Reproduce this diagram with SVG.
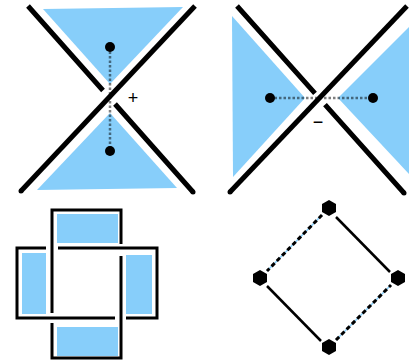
<svg xmlns="http://www.w3.org/2000/svg" width="410" height="362" viewBox="0 0 410 362">
<style>
.fill{fill:#87cefa}
.ln{stroke:#000;stroke-width:5;fill:none;stroke-linecap:butt}
.cap{fill:#000}
.dot{fill:#000}
.dotted{stroke:#000;stroke-opacity:0.5;stroke-width:2.5;stroke-dasharray:2.5 2;fill:none}
.lbl{font-family:"Liberation Sans",Arial,sans-serif;font-size:18px;fill:#000;text-anchor:middle}
.knot{stroke:#000;stroke-width:3;fill:none;stroke-linejoin:miter}
.solid{stroke:#000;stroke-width:2.5;fill:none}
.under{stroke:#87cefa;stroke-width:1.5;fill:none}
.dash{stroke:#000;stroke-width:3;stroke-dasharray:4.5 3;fill:none}
.hex{fill:#000}
</style>
<g id="cone-plus">
<polygon class="fill" points="43,9 183,7 110,84"/>
<polygon class="fill" points="37,190 177,188 110,113"/>
<path class="dotted" d="M110,47 V151"/>
<path class="ln" d="M28,6 L103,90.5 M115,104 L193,192"/>
<path class="ln" d="M21,191 L195,6"/>
<circle class="cap" cx="193" cy="192" r="2.5"/>
<circle class="cap" cx="21" cy="191" r="2.5"/>
<circle class="dot" cx="110" cy="47" r="5"/>
<circle class="dot" cx="110" cy="151" r="5"/>
<text class="lbl" x="133" y="104">+</text>
</g>
<g id="cone-minus">
<polygon class="fill" points="232,16 233,177 305,98"/>
<polygon class="fill" points="409,27 409,174 338,98"/>
<path class="dotted" d="M270,98 H373"/>
<path class="ln" d="M237,6 L315,93.4 M325,104.6 L404,193"/>
<path class="ln" d="M230,192 L407,6"/>
<circle class="cap" cx="404" cy="193" r="2.5"/>
<circle class="cap" cx="230" cy="192" r="2.5"/>
<circle class="dot" cx="270" cy="98" r="5"/>
<circle class="dot" cx="373" cy="98" r="5"/>
<text class="lbl" x="318" y="128">−</text>
</g>
<g id="knot">
<rect class="fill" x="57" y="214" width="61" height="29"/>
<rect class="fill" x="22" y="253" width="24" height="61"/>
<rect class="fill" x="126" y="255" width="26" height="59"/>
<rect class="fill" x="57" y="327" width="61" height="29"/>
<path class="knot" d="M52,313 V210 H121 V244"/>
<path class="knot" d="M121,256 V358 H52 V323"/>
<path class="knot" d="M46,248 H17 V318 H115"/>
<path class="knot" d="M126,318 H157 V248 H58"/>
</g>
<g id="connectors">
<path class="under" d="M322,215 L267,271"/>
<path class="dash" d="M322,215 L267,271"/>
<path class="solid" d="M336,217 L390,272"/>
<path class="solid" d="M267,286 L321,341"/>
<path class="under" d="M336,340 L391,285"/>
<path class="dash" d="M336,340 L391,285"/>
</g>
<g id="node-top"><polygon class="hex" points="329,200 336,204 336,212 329,216 322,212 322,204"/></g>
<g id="node-left"><polygon class="hex" points="260,270 267,274 267,282 260,286 253,282 253,274"/></g>
<g id="node-right"><polygon class="hex" points="398,270 405,274 405,282 398,286 391,282 391,274"/></g>
<g id="node-bottom"><polygon class="hex" points="329,339 336,343 336,351 329,355 322,351 322,343"/></g>
</svg>
